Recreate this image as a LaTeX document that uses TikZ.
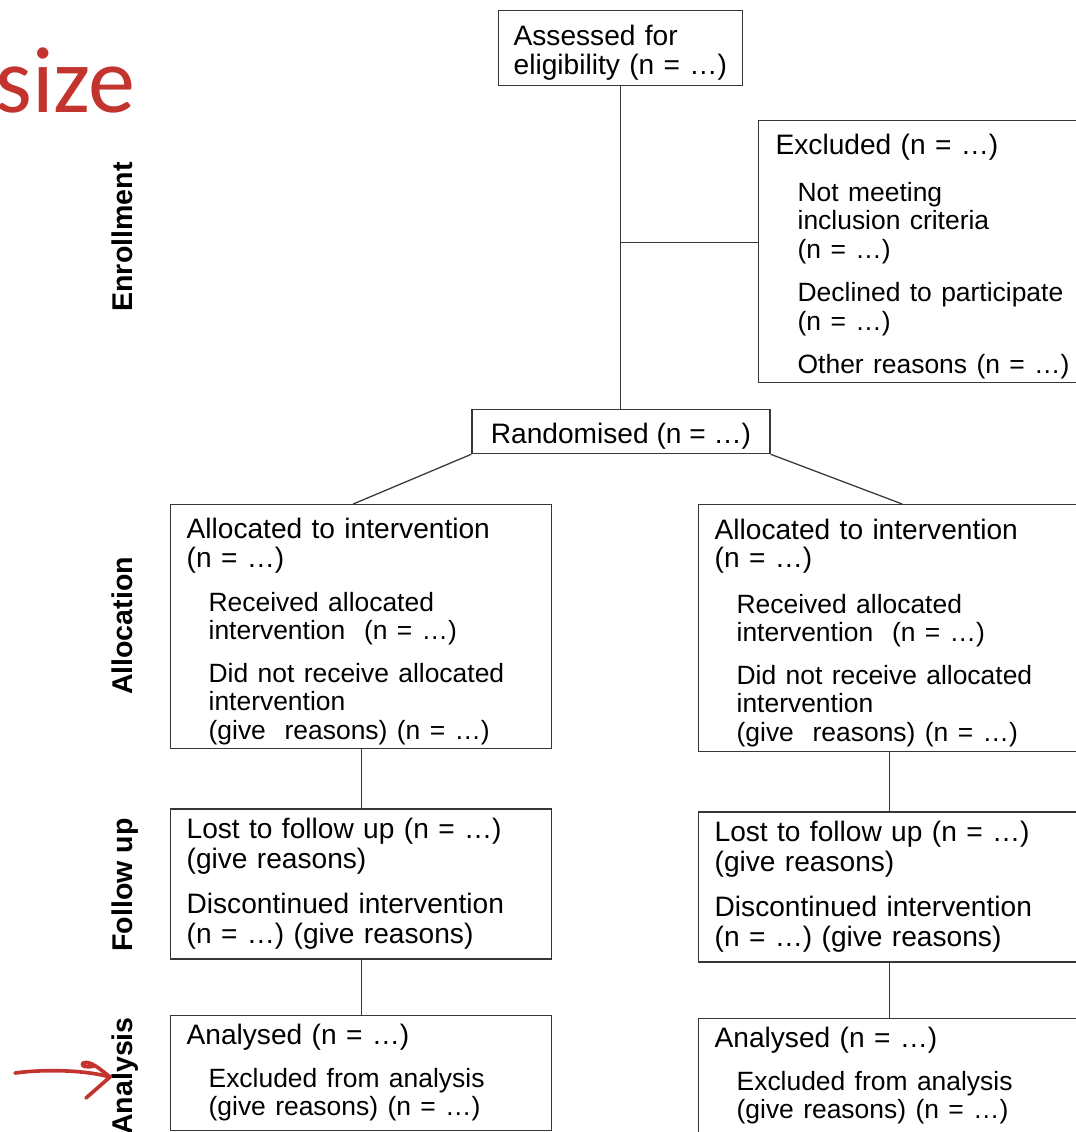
\documentclass[tikz,border=0pt]{standalone}
\usepackage{fontspec}
\setmainfont{Liberation Sans}
\newfontfamily\notefont{Carlito}
\usepackage{xcolor}
\usepackage{tikz}
\usetikzlibrary{positioning,calc}
\definecolor{notered}{RGB}{196,52,46}
\definecolor{boxline}{RGB}{55,55,55}
\newcommand{\mainsize}{\fontsize{20pt}{20.3pt}\selectfont}
\newcommand{\subsize}{\fontsize{18.8pt}{20.3pt}\selectfont}
\newcommand{\subline}[1]{\hspace*{0.55cm}{\subsize #1}}
\newcommand{\lift}{\rule{0pt}{0.75cm}}
\tikzset{
  stagebox/.style={
    rectangle,
    draw=boxline,
    line width=0.9pt,
    anchor=north west,
    align=left,
    inner xsep=0.4cm,
    inner ysep=2pt,
    font=\mainsize
  },
  phaselabel/.style={
    rotate=90,
    anchor=base,
    inner sep=0pt,
    font=\fontsize{20.3pt}{22pt}\selectfont\bfseries
  },
  link/.style={draw=boxline, line width=0.9pt},
  redpen/.style={draw=notered, line width=2.6pt, line cap=round, line join=round}
}

\begin{document}
\begin{tikzpicture}[x=0.025cm, y=-0.025cm]
\useasboundingbox (0,0) rectangle (1076,1132);

% note in red
\node[anchor=base east, inner sep=0pt, text=notered, font=\notefont\fontsize{66.9pt}{70pt}\selectfont] (note) at (136,112) {size};

% phase labels
\node[phaselabel] (lblenrol) at (132,237) {Enrollment};
\node[phaselabel] (lblalloc) at (132,626) {Allocation};
\node[phaselabel] (lblfollow) at (132,885) {Follow up};
\node[phaselabel] (lblanalysis) at (132,1076) {Analysis};

% enrollment
\node[stagebox, text width=5.35cm, inner xsep=0.375cm, minimum height=1.875cm] (elig) at (498,10)
  {\lift Assessed for\\eligibility (n = …)};
\node[stagebox, text width=7.4cm, inner xsep=0.425cm, minimum height=6.55cm] (excl) at (758,120)
  {\lift Excluded (n = …)\\[13pt]
   \subline{Not meeting}\\\subline{inclusion criteria}\\\subline{(n = …)}\\[10.5pt]
   \subline{Declined to participate}\\\subline{(n = …)}\\[10.5pt]
   \subline{Other reasons (n = …)}};
\node[stagebox, anchor=north, minimum width=7.45cm, minimum height=1.1cm, align=center] (rand) at (621,409)
  {\lift Randomised (n = …)};

% allocation
\node[stagebox, text width=8.725cm, minimum height=6.1cm] (allocL) at (170,504)
  {\lift Allocated to intervention\\(n = …)\\[11pt]
   \subline{Received allocated}\\\subline{intervention\ \ (n = …)}\\[10pt]
   \subline{Did not receive allocated}\\\subline{intervention}\\\subline{(give\ \ reasons) (n = …)}};
\node[stagebox, text width=8.725cm, minimum height=6.175cm] (allocR) at (698,504)
  {\lift Allocated to intervention\\(n = …)\\[12pt]
   \subline{Received allocated}\\\subline{intervention\ \ (n = …)}\\[10pt]
   \subline{Did not receive allocated}\\\subline{intervention}\\\subline{(give\ \ reasons) (n = …)}};

% follow up
\node[stagebox, text width=8.725cm, minimum height=3.75cm, font=\fontsize{20pt}{21.3pt}\selectfont, below=1.475cm of allocL] (followL)
  {Lost to follow up (n = …)\\(give reasons)\\[11pt]
   Discontinued intervention\\(n = …) (give reasons)};
\node[stagebox, text width=8.725cm, minimum height=3.75cm, font=\fontsize{20pt}{21.3pt}\selectfont, below=1.475cm of allocR] (followR)
  {Lost to follow up (n = …)\\(give reasons)\\[11pt]
   Discontinued intervention\\(n = …) (give reasons)};

% analysis
\node[stagebox, text width=8.725cm, minimum height=2.875cm, below=1.375cm of followL] (anaL)
  {Analysed (n = …)\\[10pt]
   \subline{Excluded from analysis}\\\subline{(give reasons) (n = …)}};
\node[stagebox, text width=8.725cm, minimum height=2.875cm, below=1.375cm of followR] (anaR)
  {Analysed (n = …)\\[10pt]
   \subline{Excluded from analysis}\\\subline{(give reasons) (n = …)}};

% connectors
\coordinate (branch) at ($(excl.north west)!0.466!(excl.south west)$);
\draw[link] (elig.south) -- (elig.south |- rand.north);
\draw[link] (branch -| elig.south) -- (branch);
\draw[link] (rand.south west) -- ($(allocL.north)+(-8,0)$);
\draw[link] (rand.south east) -- ($(allocR.north)+(13,0)$);
\draw[link] (allocL) -- (followL);
\draw[link] (followL) -- (anaL);
\draw[link] (allocR) -- (followR);
\draw[link] (followR) -- (anaR);

% red pen arrow
\coordinate (pentail) at (15,1073);
\coordinate (pentip) at (110,1077);
\draw[redpen] (pentail) .. controls (45,1069) and (85,1070) .. (pentip);
\draw[redpen] (86,1098) -- (pentip) .. controls (100,1069) and (90,1060) .. (83,1063)
  .. controls (80,1066) and (86,1068) .. (94,1066);
\end{tikzpicture}
\end{document}
